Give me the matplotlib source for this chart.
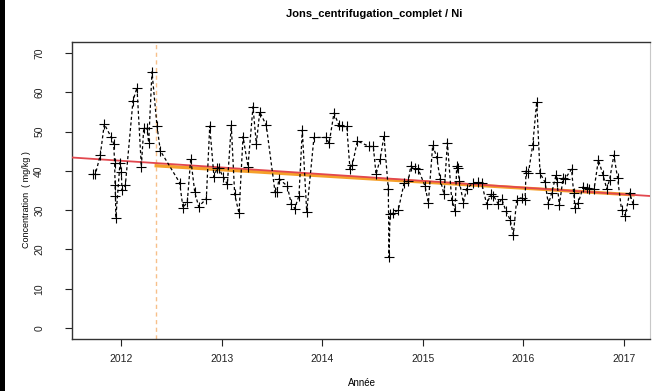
import matplotlib
matplotlib.use("Agg")
import matplotlib.pyplot as plt
from matplotlib.patches import Rectangle

# dates en années décimales, concentrations en mg/kg
dates = [
    2011.719, 2011.745, 2011.794, 2011.834, 2011.904, 2011.927, 2011.937, 2011.941,
    2011.945, 2011.949, 2011.990, 2012.003, 2012.010, 2012.043, 2012.119, 2012.159,
    2012.202, 2012.226, 2012.258, 2012.275, 2012.308, 2012.358, 2012.391, 2012.583,
    2012.616, 2012.659, 2012.693, 2012.733, 2012.772, 2012.848, 2012.882, 2012.924,
    2012.957, 2012.971, 2013.014, 2013.057, 2013.096, 2013.130, 2013.173, 2013.213,
    2013.262, 2013.312, 2013.345, 2013.379, 2013.444, 2013.531, 2013.548, 2013.571,
    2013.653, 2013.693, 2013.727, 2013.769, 2013.802, 2013.846, 2013.918, 2014.035,
    2014.068, 2014.117, 2014.167, 2014.200, 2014.244, 2014.276, 2014.299, 2014.349,
    2014.468, 2014.508, 2014.535, 2014.575, 2014.614, 2014.657, 2014.664, 2014.674,
    2014.707, 2014.756, 2014.813, 2014.856, 2014.880, 2014.922, 2014.955, 2015.022,
    2015.055, 2015.098, 2015.138, 2015.171, 2015.211, 2015.244, 2015.287, 2015.320,
    2015.337, 2015.347, 2015.363, 2015.403, 2015.436, 2015.496, 2015.552, 2015.585,
    2015.635, 2015.675, 2015.701, 2015.751, 2015.784, 2015.827, 2015.867, 2015.900,
    2015.933, 2015.983, 2016.016, 2016.026, 2016.049, 2016.092, 2016.132, 2016.165,
    2016.215, 2016.248, 2016.281, 2016.324, 2016.334, 2016.357, 2016.394, 2016.414,
    2016.478, 2016.500, 2016.513, 2016.546, 2016.595, 2016.629, 2016.652, 2016.702,
    2016.745, 2016.791, 2016.828, 2016.856, 2016.899, 2016.935, 2016.975, 2017.013,
    2017.055, 2017.089,
]
concentrations = [
    39.1, 39.1, 44.0, 51.9, 48.5, 46.9, 42.1, 36.3,
    33.7, 28.1, 42.1, 39.7, 35.1, 36.3, 57.8, 61.2,
    41.1, 50.8, 50.8, 47.2, 65.2, 51.4, 45.1, 37.0,
    30.6, 32.1, 43.1, 34.6, 30.9, 32.9, 51.4, 38.5,
    40.8, 40.8, 38.5, 36.6, 51.6, 34.0, 29.2, 48.7,
    41.1, 56.3, 46.9, 55.0, 51.6, 34.6, 34.6, 38.0,
    36.1, 31.5, 30.4, 33.7, 50.4, 29.5, 48.5, 48.5,
    47.0, 54.7, 51.6, 51.3, 51.3, 40.4, 41.4, 47.6,
    46.2, 46.2, 39.1, 42.9, 48.9, 35.3, 18.0, 28.9,
    29.3, 30.0, 36.8, 37.4, 41.2, 40.6, 40.4, 36.1,
    31.9, 46.5, 43.5, 38.0, 34.0, 47.2, 32.7, 29.9,
    41.2, 40.6, 37.4, 31.9, 35.5, 36.8, 37.1, 36.8,
    31.5, 34.0, 33.7, 31.5, 32.9, 29.7, 27.6, 23.8,
    32.7, 33.2, 32.6, 40.0, 39.4, 46.5, 57.6, 39.4,
    37.1, 31.5, 34.4, 38.9, 37.1, 31.2, 38.2, 38.0,
    40.4, 34.3, 30.6, 31.9, 36.0, 35.7, 35.5, 35.3,
    42.8, 39.0, 35.4, 37.7, 44.0, 38.3, 30.1, 28.6,
    34.4, 31.6,
]

# rupture et tendances (valeur en 2012, pente par an)
date_rupture = 2012.35
tendance_globale = (42.57, -1.706)
tendance_apres = (41.85, -1.56)

annees = [2012, 2013, 2014, 2015, 2016, 2017]
yticks = [0, 10, 20, 30, 40, 50, 60, 70]

plt.rcParams["font.family"] = ["Liberation Sans", "DejaVu Sans"]

fig = plt.figure(figsize=(6.53, 3.91), dpi=100)
ax = fig.add_axes([72 / 653, 1 - 339 / 391, 578 / 653, 297 / 391])

xlim = (2011.513, 2017.258)
ax.set_xlim(*xlim)
ax.set_ylim(-2.8, 72.8)

ax.plot(dates, concentrations, color="black", linestyle=(0, (2.5, 2)), linewidth=0.9,
        marker="+", markersize=7, markeredgewidth=0.8, zorder=4)

# tendance après la rupture, puis droite sur toute la période
b, a = tendance_globale
b2, a2 = tendance_apres
x_apres = [date_rupture, dates[-1]]
ax.plot(x_apres, [b2 + a2 * (x - 2012) for x in x_apres], color="#f5a02a", linewidth=2.4, zorder=2)
ax.plot(list(xlim), [b + a * (x - 2012) for x in xlim], color="#e2474e", linewidth=1.3, zorder=3)

ax.axvline(date_rupture, color="#f7c08a", linestyle=(0, (3, 2.5)), linewidth=1.0, zorder=1)

ax.set_xticks(annees)
ax.set_xticklabels([str(y) for y in annees])
ax.set_yticks(yticks)
ax.set_yticklabels([str(v) for v in yticks], rotation=90, va="center")
ax.tick_params(axis="x", length=5, width=0.8, pad=6, labelsize=7.5, colors="#222222")
ax.tick_params(axis="y", length=5, width=0.8, pad=15, labelsize=7.5, colors="#222222")

for side in ["left", "top", "bottom"]:
    ax.spines[side].set_color("#333333")
    ax.spines[side].set_linewidth(1.0)
ax.spines["right"].set_color("#c8c8c8")
ax.spines["right"].set_linewidth(0.8)

fig.text(374 / 653, 1 - 14 / 391, "Jons_centrifugation_complet / Ni", ha="center", va="center",
         fontsize=8, fontweight="bold")
fig.text(362 / 653, 1 - 383 / 391, "Année", ha="center", va="center", fontsize=7)
fig.text(27 / 653, 1 - 200 / 391, "Concentration  ( mg/kg )", ha="center", va="center",
         rotation=90, fontsize=6.5)

# bord noir à gauche
fig.patches.append(Rectangle((0, 0), 5 / 653, 1, transform=fig.transFigure,
                             facecolor="black", edgecolor="none"))

fig.savefig("out.png", dpi=100)
